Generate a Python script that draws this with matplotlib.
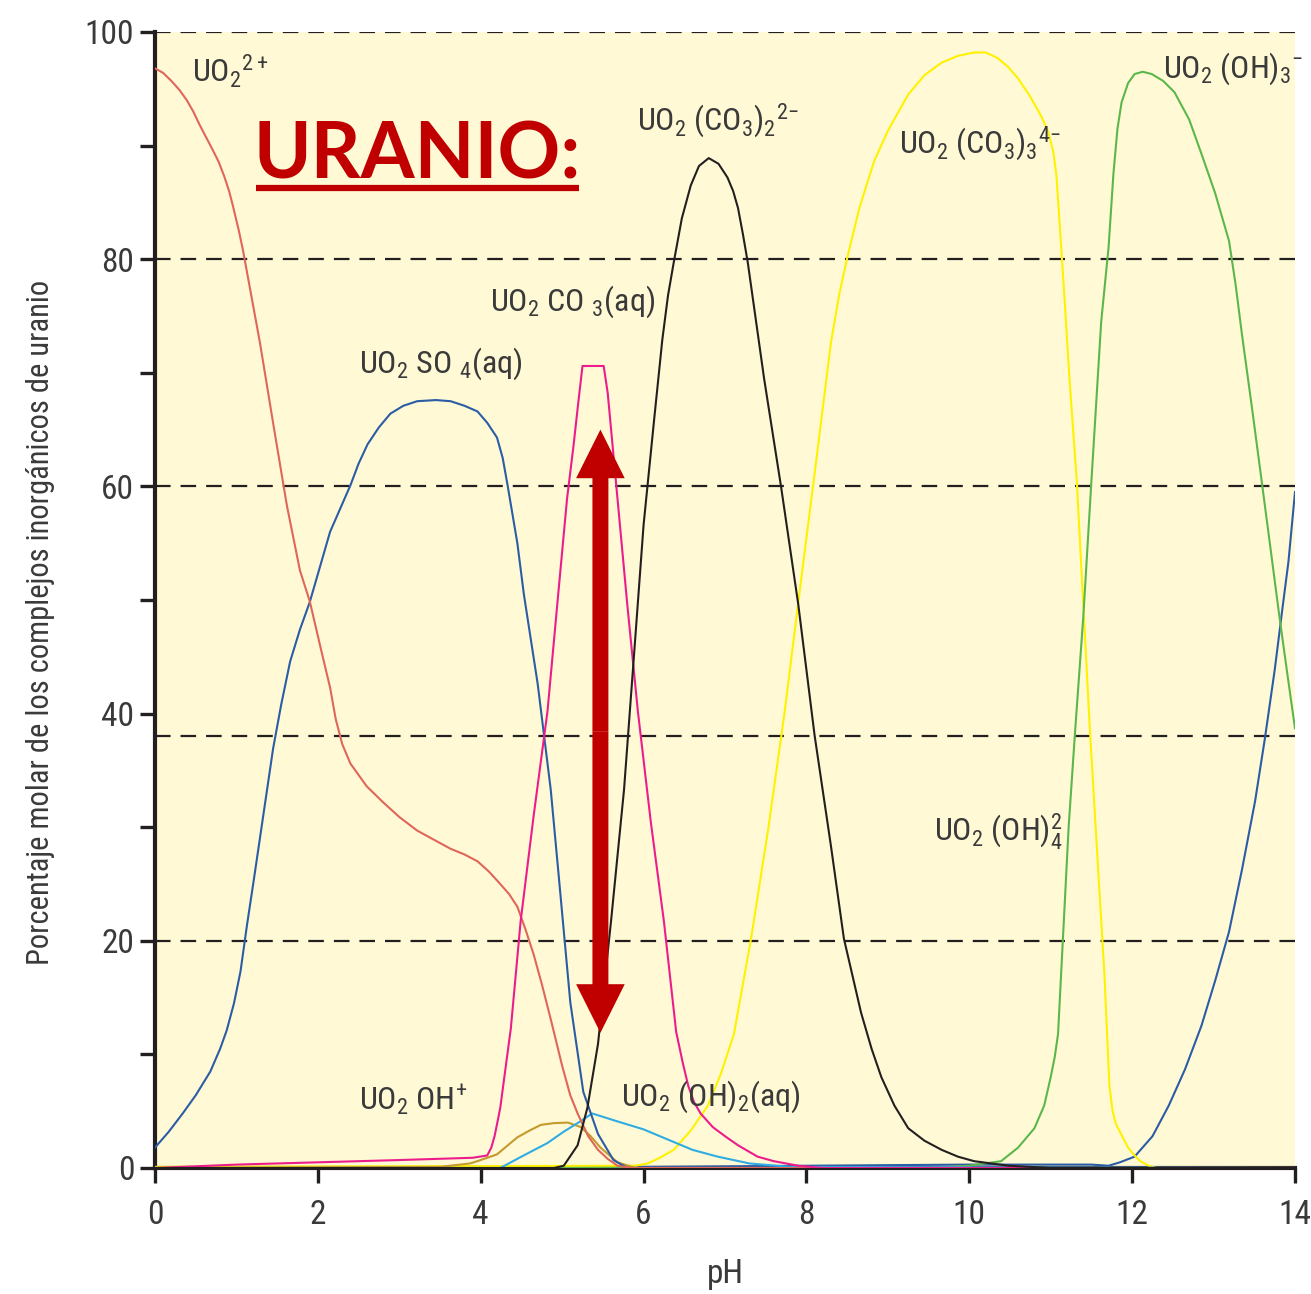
import os
import matplotlib
matplotlib.use("Agg")
import matplotlib.pyplot as plt
from matplotlib import font_manager as fm
from matplotlib.patches import FancyArrowPatch
from matplotlib.lines import Line2D

# pick a narrow / condensed face if the machine has one
cands = []
for f in fm.fontManager.ttflist:
    fn = os.path.basename(f.fname).lower()
    if ('narrow' in fn or 'condensed' in fn) and not any(w in fn for w in
            ['bold', 'italic', 'oblique', 'light', 'thin', 'black', 'medium', 'semi', 'extra']):
        cands.append(f)
order = ['liberation', 'roboto', 'dejavu', 'noto', 'open']
cands.sort(key=lambda f: next((i for i, k in enumerate(order)
                               if k in os.path.basename(f.fname).lower()), 99))
if cands:
    fam, stretch = cands[0].name, cands[0].stretch
else:
    fam, stretch = 'Liberation Sans', 'normal'

plt.rcParams['font.family'] = [fam, 'DejaVu Sans']
plt.rcParams['font.stretch'] = stretch
plt.rcParams['mathtext.fontset'] = 'custom'
plt.rcParams['mathtext.rm'] = f'{fam}:stretch={stretch}'
plt.rcParams['mathtext.it'] = f'{fam}:stretch={stretch}'
plt.rcParams['mathtext.bf'] = f'{fam}:stretch={stretch}'

# ---- data (pH, % molar) ----
ph_uo2 = [0, 0.1, 0.2, 0.3, 0.39, 0.47, 0.55, 0.63, 0.71, 0.78, 0.85, 0.91, 0.96, 1.03, 1.08,
          1.29, 1.45, 1.62, 1.78, 1.9, 2.05, 2.15, 2.22, 2.3, 2.4, 2.5, 2.6, 2.8, 3.0, 3.22,
          3.45, 3.63, 3.8, 3.96, 4.1, 4.24, 4.35, 4.45, 4.55, 4.65, 4.75, 4.86, 5.0, 5.1,
          5.19, 5.32, 5.44, 5.56, 5.68, 5.85, 14]
uo2 = [96.8, 96.4, 95.7, 94.9, 94.0, 93.0, 91.8, 90.7, 89.6, 88.6, 87.3, 86.0, 84.6, 82.5, 80.8,
       72.6, 65.6, 58.3, 52.6, 49.9, 45.3, 42.3, 39.5, 37.3, 35.6, 34.6, 33.6, 32.2, 30.9, 29.7,
       28.8, 28.1, 27.6, 27.0, 26.1, 25.0, 24.1, 23.0, 21.0, 18.8, 16.2, 13.1, 9.0, 6.4,
       4.8, 2.8, 1.6, 0.8, 0.2, 0, 0]

ph_so4 = [0, 0.17, 0.34, 0.5, 0.68, 0.8, 0.88, 0.97, 1.05, 1.13, 1.21, 1.29, 1.45, 1.55, 1.66,
          1.78, 1.9, 2.15, 2.4, 2.5, 2.61, 2.75, 2.89, 3.05, 3.22, 3.45, 3.63, 3.8, 3.96, 4.08,
          4.2, 4.27, 4.33, 4.45, 4.53, 4.7, 4.86, 4.98, 5.1, 5.26, 5.44, 5.63, 5.8, 14]
so4 = [1.8, 3.2, 4.8, 6.4, 8.5, 10.5, 12.1, 14.5, 17.3, 21.4, 25.2, 29.1, 36.9, 40.8, 44.6,
       47.4, 49.8, 56.0, 60.1, 62.0, 63.7, 65.2, 66.4, 67.1, 67.5, 67.6, 67.5, 67.1, 66.6, 65.6,
       64.3, 62.5, 60.1, 55.0, 50.5, 42.6, 33.3, 24.0, 14.6, 6.7, 3.0, 0.7, 0, 0]

ph_co3 = [0, 1, 2, 3, 3.9, 4.08, 4.13, 4.17, 4.21, 4.24, 4.37, 4.49, 4.65, 4.82, 4.94, 5.06,
          5.14, 5.2, 5.25, 5.51, 5.56, 5.68, 5.8, 5.93, 6.09, 6.25, 6.4, 6.48, 6.55, 6.62, 6.7,
          6.85, 7.0, 7.16, 7.4, 7.6, 7.9, 8.2, 14]
co3 = [0, 0.3, 0.5, 0.7, 0.9, 1.1, 1.8, 2.8, 4.2, 5.3, 12.3, 21.7, 31.0, 40.2, 49.6, 58.9,
       63.6, 67.5, 70.6, 70.6, 68.2, 58.9, 49.6, 40.2, 30.4, 21.7, 12.0, 9.3, 7.2, 5.8, 4.8,
       3.6, 2.8, 2.0, 1.0, 0.6, 0.2, 0, 0]

ph_co3_2 = [0, 4.9, 5.02, 5.19, 5.31, 5.44, 5.6, 5.76, 5.88, 6.0, 6.13, 6.23, 6.3, 6.37, 6.47,
            6.58, 6.68, 6.8, 6.92, 7.03, 7.1, 7.16, 7.22, 7.28, 7.38, 7.48, 7.69, 7.9, 8.1,
            8.3, 8.46, 8.67, 8.8, 8.92, 9.08, 9.25, 9.45, 9.66, 9.86, 10.06, 10.48, 11, 14]
co3_2 = [0, 0, 0.2, 2.0, 5.3, 10.9, 21.7, 33.3, 44.9, 56.6, 65.9, 72.9, 76.8, 79.7, 83.6,
         86.5, 88.2, 88.9, 88.4, 87.2, 86.0, 84.5, 82.2, 79.7, 74.6, 69.5, 59.9, 49.6, 38.1,
         28.4, 20.2, 13.7, 10.5, 8.0, 5.5, 3.5, 2.4, 1.6, 1.0, 0.6, 0.2, 0, 0]

ph_co3_3 = [0, 5.9, 6.05, 6.2, 6.37, 6.58, 6.79, 6.95, 7.11, 7.32, 7.53, 7.73, 7.93, 8.1, 8.3,
            8.4, 8.51, 8.65, 8.83, 9.0, 9.25, 9.45, 9.66, 9.86, 10.06, 10.2, 10.35, 10.48,
            10.6, 10.75, 10.89, 10.97, 11.03, 11.07, 11.12, 11.17, 11.23, 11.32, 11.4, 11.48,
            11.58, 11.66, 11.72, 11.76, 11.8, 11.87, 11.95, 12.03, 12.1, 12.2, 12.3, 14]
co3_3 = [0.1, 0.2, 0.4, 0.9, 1.6, 3.3, 5.5, 8.3, 11.8, 20.2, 29.8, 40.0, 51.5, 61.1, 72.6,
         76.8, 80.4, 84.5, 88.6, 91.3, 94.5, 96.2, 97.3, 97.9, 98.2, 98.2, 97.7, 96.9,
         95.9, 94.3, 92.5, 91.2, 89.5, 87.4, 82.0, 76.5, 69.5, 60.5, 49.6, 38.7,
         26.6, 17.0, 7.3, 5.0, 3.9, 2.9, 1.8, 1.1, 0.6, 0.2, 0, 0]

ph_oh3 = [0, 9.5, 10.0, 10.39, 10.6, 10.8, 10.92, 11.0, 11.05, 11.09, 11.15, 11.22, 11.3,
          11.4, 11.5, 11.62, 11.71, 11.77, 11.82, 11.87, 11.95, 12.03, 12.13, 12.24, 12.38,
          12.52, 12.7, 12.85, 13.02, 13.19, 13.27, 13.35, 13.47, 13.59, 13.7, 13.8, 13.9, 14.0]
oh3 = [0, 0, 0.2, 0.6, 1.8, 3.5, 5.5, 8.0, 9.8, 11.8, 20.2, 30.0, 38.5,
       48.5, 60.5, 74.5, 81.0, 87.5, 91.5, 93.8, 95.5, 96.3, 96.5, 96.3, 95.7,
       94.7, 92.3, 89.3, 85.8, 81.6, 77.8, 73.3, 67.0, 60.5, 54.5, 49.0, 43.8, 38.7]

ph_oh4 = [0, 6.0, 8.0, 10.0, 11.5, 11.71, 11.85, 12.03, 12.25, 12.45, 12.65, 12.85, 13.02,
          13.19, 13.35, 13.51, 13.63, 13.75, 13.85, 13.92, 14.0]
oh4 = [0, 0.1, 0.2, 0.3, 0.3, 0.2, 0.5, 1.0, 2.8, 5.5, 8.7, 12.5, 16.5,
       20.8, 26.3, 32.3, 37.8, 43.8, 49.5, 53.4, 59.5]

ph_oh = [0, 3.5, 3.87, 4.0, 4.2, 4.45, 4.6, 4.74, 4.9, 5.07, 5.23, 5.35, 5.47, 5.68, 5.9, 14]
oh = [0, 0.1, 0.4, 0.7, 1.2, 2.7, 3.3, 3.8, 3.95, 4.0, 3.6, 2.8, 1.8, 0.5, 0, 0]

ph_oh2 = [0, 4.24, 4.5, 4.82, 5.02, 5.2, 5.37, 5.68, 6.0, 6.3, 6.6, 6.91, 7.3, 7.8, 14]
oh2 = [0, 0, 1.0, 2.2, 3.2, 4.0, 4.8, 4.1, 3.4, 2.5, 1.6, 1.0, 0.4, 0.1, 0]

# curve order (back to front) and colours
series = [
    (ph_oh4, oh4, '#2B5CA6'),
    (ph_co3_3, co3_3, '#FFF100'),
    (ph_oh3, oh3, '#5BB74B'),
    (ph_oh, oh, '#C49A2C'),
    (ph_oh2, oh2, '#2EACE3'),
    (ph_so4, so4, '#2B5CA6'),
    (ph_uo2, uo2, '#E0655A'),
    (ph_co3, co3, '#EC1C8C'),
    (ph_co3_2, co3_2, '#231F20'),
]

labels = [r'UO$_2$$^{2+}$', r'UO$_2$ SO $_4$(aq)', r'UO$_2$ CO $_3$(aq)',
          r'UO$_2$ (CO$_3$)$_2$$^{2\mathrm{-}}$', r'UO$_2$ (CO$_3$)$_3$$^{4\mathrm{-}}$',
          r'UO$_2$ (OH)$_3$$^{-}$', r'UO$_2$ (OH)$_4^2$', r'UO$_2$ OH$^{+}$',
          r'UO$_2$ (OH)$_2$(aq)']
label_ph = [0.45, 2.5, 4.12, 5.92, 9.14, 12.38, 9.57, 2.5, 5.72]
label_val = [95.6, 70.0, 75.5, 91.4, 89.3, 96.0, 28.8, 5.1, 5.5]

grid_levels = [20, 38, 60, 80, 100]
arrow_ph = 5.47
arrow_top = 65.0
arrow_bottom = 11.9
title_ph, title_val = 1.21, 87.1

text_col = '#3a3a3a'
fs = 23

fig = plt.figure(figsize=(13.11, 12.94), dpi=100)
ax = fig.add_axes([155 / 1311, 126 / 1294, 1140 / 1311, 1136 / 1294])
ax.set_facecolor('#FFFAD5')

for lvl in grid_levels:
    ax.axhline(lvl, color='#231f20', lw=1.6, ls=(0, (7, 4.5)), zorder=1)

for xs, ys, c in series:
    ax.plot(xs, ys, color=c, lw=1.5, zorder=3, solid_joinstyle='round')

for lab, px, py in zip(labels, label_ph, label_val):
    ax.text(px, py, lab, fontsize=fs, color=text_col, ha='left', va='baseline', zorder=4)

# double arrow: two simple arrows from the middle outwards
mid = (arrow_top + arrow_bottom) / 2
for end in (arrow_top, arrow_bottom):
    a = FancyArrowPatch((arrow_ph, mid), (arrow_ph, end),
                        arrowstyle='simple,head_length=35,head_width=35,tail_width=11.5',
                        mutation_scale=1, color='#C00000', lw=0,
                        shrinkA=0, shrinkB=0, zorder=5)
    ax.add_patch(a)

title = ax.text(title_ph, title_val, 'URANIO:', fontsize=56, fontweight='bold',
                color='#C00000', family=['Lato', 'DejaVu Sans'], stretch='normal',
                ha='left', va='baseline', zorder=6)

ax.set_xlim(0, 14)
ax.set_ylim(0, 100)
ax.set_xticks([0, 2, 4, 6, 8, 10, 12, 14])
ax.set_yticks([0, 20, 40, 60, 80, 100])
ax.set_yticks([10, 30, 50, 70, 90], minor=True)

for s in ['top', 'right']:
    ax.spines[s].set_visible(False)
for s in ['left', 'bottom']:
    ax.spines[s].set_linewidth(3)
    ax.spines[s].set_color('#231f20')

ax.tick_params(axis='both', which='both', direction='out', length=11, width=2.4,
               color='#231f20', labelsize=24, labelcolor=text_col)
ax.tick_params(axis='x', pad=11)
ax.tick_params(axis='y', pad=4)

ax.set_xlabel('pH', fontsize=24, color=text_col, labelpad=20)
ax.set_ylabel('Porcentaje molar de los complejos inorgánicos de uranio', fontsize=22,
              color=text_col)
ax.yaxis.set_label_coords(-0.088, 0.48)

# underline the title just under its baseline
fig.canvas.draw()
bb = title.get_window_extent()
base_y = ax.transData.transform((title_ph, title_val))[1]
inv = fig.transFigure.inverted()
(x0, y0), (x1, _) = inv.transform([(bb.x0 + 2, base_y - 9), (bb.x1 - 2, base_y - 9)])
fig.add_artist(Line2D([x0, x1], [y0, y0], color='#C00000', lw=4.5,
                      solid_capstyle='butt', transform=fig.transFigure))

fig.savefig('out.png', dpi=100)
